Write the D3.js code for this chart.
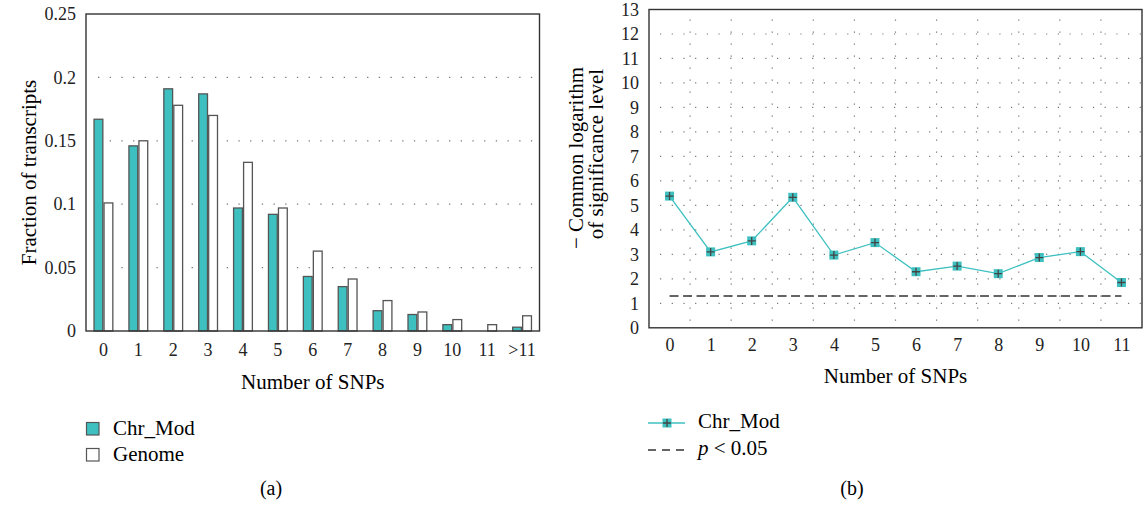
<!DOCTYPE html>
<html>
<head>
<meta charset="utf-8">
<script src="https://cdn.jsdelivr.net/npm/d3@7"></script>
<style>
  html, body { margin: 0; padding: 0; background: #fff; }
</style>
</head>
<body>
<svg id="chart" width="1143" height="505" font-family="Liberation Serif, DejaVu Serif, serif" font-size="21"></svg>
<script>
// panel (a): fraction of transcripts per SNP count
const snpCategories = ['0', '1', '2', '3', '4', '5', '6', '7', '8', '9', '10', '11', '>11'];
const chrModFraction = [0.167, 0.146, 0.191, 0.187, 0.097, 0.092, 0.043, 0.035, 0.016, 0.013, 0.005, 0, 0.003];
const genomeFraction = [0.101, 0.150, 0.178, 0.170, 0.133, 0.097, 0.063, 0.041, 0.024, 0.015, 0.009, 0.005, 0.012];
const fractionTicks = [0, 0.05, 0.1, 0.15, 0.2, 0.25];

// panel (b): -log10 significance per SNP count
const snpCounts = [0, 1, 2, 3, 4, 5, 6, 7, 8, 9, 10, 11];
const chrModLogP = [5.38, 3.10, 3.55, 5.33, 2.97, 3.48, 2.29, 2.52, 2.21, 2.87, 3.11, 1.85];
const logTicks = d3.range(0, 14);
const pThreshold = -Math.log10(0.05);

const TEAL = '#3ec0c0';
const FRAME = '#333';
const DOTS = '#777';
const FONT = 'Liberation Serif, DejaVu Serif, serif';
const TICK_FS = 18;

const svg = d3.select('#chart');

function styleAxis(g) {
  g.attr('font-family', FONT).attr('font-size', TICK_FS);
  g.select('.domain').remove();
  g.selectAll('text').attr('fill', '#222');
}

// ---------- panel (a) ----------
const a = { left: 86, right: 539.5, top: 14, bottom: 331 };
const ga = svg.append('g');

const xa = d3.scaleBand()
  .domain(snpCategories)
  .range([a.left, a.right])
  .paddingInner(0.427)
  .paddingOuter(0.2135);
const xs = d3.scaleBand().domain(['chr', 'genome']).range([0, xa.bandwidth()]);
const ya = d3.scaleLinear().domain([0, 0.25]).range([a.bottom, a.top]);

// dotted horizontal grid
ga.append('g').selectAll('line')
  .data(fractionTicks.filter(t => t > 0 && t < 0.25))
  .enter().append('line')
  .attr('x1', a.left + 12).attr('x2', a.right - 2)
  .attr('y1', d => ya(d)).attr('y2', d => ya(d))
  .attr('stroke', DOTS).attr('stroke-width', 1.3)
  .attr('stroke-dasharray', '1.3,10.4');

const series = [
  { key: 'chr', values: chrModFraction, fill: TEAL },
  { key: 'genome', values: genomeFraction, fill: '#fff' }
];
series.forEach(s => {
  ga.append('g').selectAll('rect')
    .data(s.values.map((v, i) => ({ v, c: snpCategories[i] })).filter(d => d.v > 0))
    .enter().append('rect')
    .attr('x', d => xa(d.c) + xs(s.key) + 0.6)
    .attr('width', xs.bandwidth() - 1.2)
    .attr('y', d => ya(d.v))
    .attr('height', d => ya(0) - ya(d.v))
    .attr('fill', s.fill)
    .attr('stroke', '#555').attr('stroke-width', 1.3);
});

// frame
ga.append('rect')
  .attr('x', a.left).attr('y', a.top)
  .attr('width', a.right - a.left).attr('height', a.bottom - a.top)
  .attr('fill', 'none').attr('stroke', FRAME).attr('stroke-width', 1.4);

ga.append('g')
  .attr('transform', `translate(${a.left},0)`)
  .call(d3.axisLeft(ya).tickValues(fractionTicks).tickFormat(d => String(d)).tickSize(0).tickPadding(10))
  .call(styleAxis);

ga.append('g')
  .attr('transform', `translate(0,${a.bottom})`)
  .call(d3.axisBottom(xa).tickSize(0).tickPadding(12))
  .call(styleAxis);

ga.append('text')
  .attr('transform', `translate(29,${(a.top + a.bottom) / 2}) rotate(-90)`)
  .attr('text-anchor', 'middle').attr('dominant-baseline', 'central')
  .text('Fraction of transcripts');

ga.append('text')
  .attr('x', (a.left + a.right) / 2).attr('y', 389)
  .attr('text-anchor', 'middle').text('Number of SNPs');

// legend (a)
const legA = [{ label: 'Chr_Mod', fill: TEAL }, { label: 'Genome', fill: '#fff' }];
legA.forEach((d, i) => {
  const y = 422.5 + i * 26;
  ga.append('rect').attr('x', 86.5).attr('y', y).attr('width', 12.5).attr('height', 12.5)
    .attr('fill', d.fill).attr('stroke', '#555').attr('stroke-width', 1.2);
  ga.append('text').attr('x', 113).attr('y', y + 12).text(d.label);
});

ga.append('text').attr('x', 271).attr('y', 495)
  .attr('text-anchor', 'middle').attr('font-size', 20).text('(a)');

// ---------- panel (b) ----------
const b = { left: 649, right: 1142, top: 9.5, bottom: 327.8 };
const gb = svg.append('g');

const xb = d3.scalePoint().domain(snpCounts).range([b.left, b.right]).padding(0.5);
const yb = d3.scaleLinear().domain([0, 13]).range([b.bottom, b.top]);

// dotted grid: horizontal at integer values, vertical between categories
gb.append('g').selectAll('line')
  .data(logTicks.filter(t => t > 0 && t < 13))
  .enter().append('line')
  .attr('x1', b.left + 11).attr('x2', b.right - 1)
  .attr('y1', d => yb(d)).attr('y2', d => yb(d))
  .attr('stroke', DOTS).attr('stroke-width', 1.2)
  .attr('stroke-dasharray', '1.2,10.5');
gb.append('g').selectAll('line')
  .data(snpCounts.slice(0, -1))
  .enter().append('line')
  .attr('x1', d => xb(d) + xb.step() / 2).attr('x2', d => xb(d) + xb.step() / 2)
  .attr('y1', b.top + 10).attr('y2', b.bottom - 2)
  .attr('stroke', DOTS).attr('stroke-width', 1.2)
  .attr('stroke-dasharray', '1.2,10.8');

// p < 0.05 threshold
gb.append('line')
  .attr('x1', xb(0)).attr('x2', xb(11))
  .attr('y1', yb(pThreshold)).attr('y2', yb(pThreshold))
  .attr('stroke', '#333').attr('stroke-width', 1.6)
  .attr('stroke-dasharray', '9,4.5');

const line = d3.line().x((d, i) => xb(snpCounts[i])).y(d => yb(d));
gb.append('path').datum(chrModLogP)
  .attr('d', line).attr('fill', 'none')
  .attr('stroke', TEAL).attr('stroke-width', 1.3);

function marker(g, cx, cy) {
  g.append('rect').attr('x', cx - 4.5).attr('y', cy - 4.5).attr('width', 9).attr('height', 9)
    .attr('fill', TEAL);
  g.append('path').attr('d', `M${cx - 4},${cy}H${cx + 4}M${cx},${cy - 4}V${cy + 4}`)
    .attr('stroke', '#444').attr('stroke-width', 1.3);
}
const mk = gb.append('g');
chrModLogP.forEach((v, i) => marker(mk, xb(snpCounts[i]), yb(v)));

gb.append('rect')
  .attr('x', b.left).attr('y', b.top)
  .attr('width', b.right - b.left).attr('height', b.bottom - b.top)
  .attr('fill', 'none').attr('stroke', FRAME).attr('stroke-width', 1.4);

gb.append('g')
  .attr('transform', `translate(${b.left},0)`)
  .call(d3.axisLeft(yb).tickValues(logTicks).tickFormat(d3.format('d')).tickSize(0).tickPadding(10))
  .call(styleAxis);

gb.append('g')
  .attr('transform', `translate(0,${b.bottom})`)
  .call(d3.axisBottom(xb).tickSize(0).tickPadding(10))
  .call(styleAxis);

gb.append('text')
  .attr('transform', `translate(576,158) rotate(-90)`)
  .attr('text-anchor', 'middle').attr('dominant-baseline', 'central')
  .text('\u2212 Common logarithm');
gb.append('text')
  .attr('transform', `translate(596,154) rotate(-90)`)
  .attr('text-anchor', 'middle').attr('dominant-baseline', 'central')
  .text('of significance level');

gb.append('text')
  .attr('x', (b.left + b.right) / 2).attr('y', 383)
  .attr('text-anchor', 'middle').text('Number of SNPs');

// legend (b)
gb.append('line').attr('x1', 648).attr('x2', 685).attr('y1', 423).attr('y2', 423)
  .attr('stroke', TEAL).attr('stroke-width', 1.3);
marker(gb, 667, 423);
gb.append('text').attr('x', 698).attr('y', 428).text('Chr_Mod');
gb.append('line').attr('x1', 648).attr('x2', 684).attr('y1', 450).attr('y2', 450)
  .attr('stroke', '#333').attr('stroke-width', 1.4).attr('stroke-dasharray', '8,6');
const pt = gb.append('text').attr('x', 698).attr('y', 455);
pt.append('tspan').attr('font-style', 'italic').text('p');
pt.append('tspan').text(' < 0.05');

gb.append('text').attr('x', 852).attr('y', 495)
  .attr('text-anchor', 'middle').attr('font-size', 20).text('(b)');
</script>
</body>
</html>
